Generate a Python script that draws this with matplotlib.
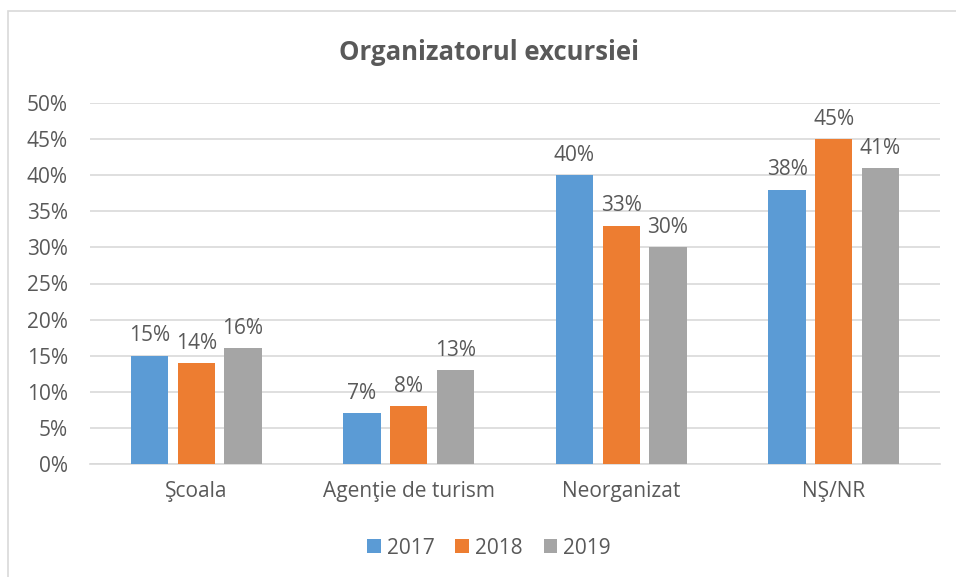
import numpy as np
import matplotlib
matplotlib.use('agg')
import matplotlib.pyplot as plt
from matplotlib.patches import Rectangle
from matplotlib.ticker import MultipleLocator, FuncFormatter

categories = ['Şcoala', 'Agenţie de turism', 'Neorganizat', 'NŞ/NR']
years = ['2017', '2018', '2019']
v2017 = [15, 7, 40, 38]
v2018 = [14, 8, 33, 45]
v2019 = [16, 13, 30, 41]
colors = ['#5B9BD5', '#ED7D31', '#A5A5A5']
text_color = '#595959'

plt.rcParams['font.family'] = ['Open Sans', 'DejaVu Sans']

W, H = 956, 577
fig = plt.figure(figsize=(W / 100, H / 100), dpi=100)
# chart frame
fig.patches.append(Rectangle((8 / W, -0.1), 1.1, 1 - 11 / H + 0.1, transform=fig.transFigure,
                             fill=False, edgecolor='#D9D9D9', linewidth=1.2))

ax = fig.add_axes([90 / W, 1 - 464 / H, 850 / W, 361 / H])
x = np.arange(len(categories))
width = 0.175
step = 0.22
for i, (vals, yr) in enumerate(zip([v2017, v2018, v2019], years)):
    bars = ax.bar(x + (i - 1) * step, vals, width, color=colors[i], label=yr, zorder=3)
    for b, v in zip(bars, vals):
        ax.text(b.get_x() + b.get_width() / 2, v + 1.3, f'{v}%', ha='center', va='bottom',
                fontsize=15, color=text_color)

ax.set_xlim(-0.5, len(categories) - 0.5)
ax.set_ylim(0, 50)
ax.yaxis.set_major_locator(MultipleLocator(5))
ax.yaxis.set_major_formatter(FuncFormatter(lambda v, p: f'{v:.0f}%'))
ax.grid(axis='y', color='#D9D9D9', linewidth=1.2, zorder=0)
for s in ['top', 'right', 'left']:
    ax.spines[s].set_visible(False)
ax.spines['bottom'].set_color('#D9D9D9')
ax.spines['bottom'].set_linewidth(1.2)
ax.tick_params(axis='both', length=0, labelsize=15, colors=text_color)
ax.tick_params(axis='y', pad=16)
ax.tick_params(axis='x', pad=12)
ax.set_xticks(x)
ax.set_xticklabels(categories)

# title and legend are centred on the chart frame, not the plot area
cx = 489 / W
fig.text(cx, 1 - 52 / H, 'Organizatorul excursiei', ha='center', va='center',
         fontsize=18.5, fontweight='bold', color=text_color)
fig.legend(loc='center', bbox_to_anchor=(cx, 1 - 548 / H), ncol=3, frameon=False,
           fontsize=15, handlelength=0.65, handleheight=0.65, handletextpad=0.3, columnspacing=1.0,
           labelcolor=text_color)

fig.savefig('out.png', dpi=100)
